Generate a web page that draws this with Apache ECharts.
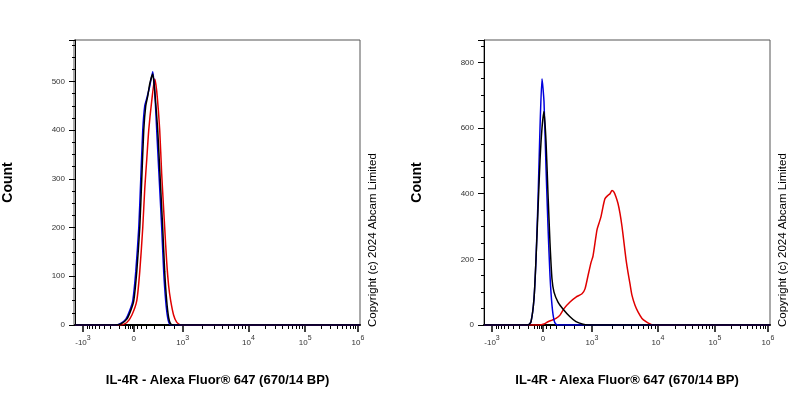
<!DOCTYPE html><html><head><meta charset="utf-8"><script src="https://cdn.jsdelivr.net/npm/echarts@6/dist/echarts.min.js"></script>
<style>body{margin:0}#c{width:800px;height:400px}</style></head><body><div id="c"></div><script>
// x values are display positions on the biexponential axis (0..286)
const tickPos = [8, 59, 108, 174, 231, 284];
const tickLabels = ['-10^3', '0', '10^3', '10^4', '10^5', '10^6'];
const L_black = [[0,0],[40,0],[46,2],[52,12],[56,30],[59,50],[62,110],[65,200],[67,300],[69,400],[71,450],[73,470],[75,495],[78,515],[80,480],[83,400],[85,320],[88,200],[90,110],[92,50],[94,15],[96,2],[100,0],[286,0]];
const L_blue = [[0,0],[40,0],[45,2],[51,12],[55,30],[58,50],[61,110],[64,200],[66,300],[68,400],[70,450],[72,465],[75,490],[78,520],[80,480],[82,400],[84,320],[87,200],[89,110],[91,50],[93,15],[95,2],[99,0],[286,0]];
const L_red = [[0,0],[46,0],[52,5],[57,20],[62,50],[65,110],[68,200],[70,280],[72,340],[74,400],[77,460],[80,505],[82,480],[85,400],[87,310],[90,200],[92,130],[94,80],[96,50],[99,20],[102,6],[106,0],[286,0]];
const R_blue = [[0,0],[44,0],[47,10],[50,80],[52,200],[54,380],[56,600],[58,750],[60,680],[62,480],[64,300],[66,150],[68,60],[70,15],[72,2],[75,0],[286,0]];
const R_black = [[0,0],[44,0],[47,10],[50,80],[52,200],[54,350],[56,500],[58,600],[60,650],[62,560],[64,400],[66,250],[68,140],[70,100],[74,70],[80,45],[86,25],[92,10],[99,2],[104,0],[286,0]];
const R_red = [[0,0],[55,0],[60,3],[64,10],[68,15],[72,20],[76,30],[80,50],[86,70],[92,85],[98,95],[101,110],[104,150],[107,190],[109,210],[111,250],[113,290],[115,310],[117,330],[119,360],[121,385],[124,395],[126,400],[128,410],[130,405],[132,390],[134,370],[136,340],[138,300],[140,250],[142,200],[144,160],[146,125],[148,90],[151,60],[154,40],[158,20],[162,10],[166,3],[169,0],[286,0]];
const leftYTicks = [0,100,200,300,400,500];
const rightYTicks = [0,200,400,600,800];

function minorTicks(){
  const v=[];
  for(let k=2;k<10;k++){v.push(108+66*Math.log10(k));v.push(174+57*Math.log10(k));v.push(231+53*Math.log10(k));}
  for(let k=2;k<10;k++){v.push(59-51*Math.log10(k)*0.97);}
  [50,53,55,57,62,66,72,80,90,100].forEach(x=>v.push(x));
  return v;
}
const lab = s => { const m=s.match(/^(-?)10\^(\d)$/); return m ? '{b|'+m[1]+'10}{s|'+m[2]+'}' : '{b|'+s+'}'; };
const grids=[{left:74,top:40,width:286,height:285},{left:484,top:40,width:286,height:285}];
const xAxes=[],yAxes=[],series=[];
[0,1].forEach(i=>{
  xAxes.push({gridIndex:i,type:'value',min:0,max:286,
    axisLine:{lineStyle:{color:'#000',width:2}},splitLine:{show:false},
    axisTick:{customValues:tickPos,length:7,lineStyle:{color:'#000',width:1.5}},
    axisLabel:{customValues:tickPos,formatter:(v)=>lab(tickLabels[tickPos.indexOf(v)]),margin:10,
      rich:{b:{fontSize:8,color:'#333',fontFamily:'Arial'},s:{fontSize:7,color:'#333',verticalAlign:'top',padding:[0,0,8,0]}}},
    name:'IL-4R - Alexa Fluor® 647 (670/14 BP)',nameLocation:'middle',nameGap:49,
    nameTextStyle:{fontWeight:'bold',fontSize:13,color:'#000',fontFamily:'Arial'}});
  xAxes.push({gridIndex:i,type:'value',min:0,max:286,position:'bottom',axisLine:{show:false},splitLine:{show:false},axisLabel:{show:false},
    axisTick:{customValues:minorTicks(),length:4,lineStyle:{color:'#000'}}});
  const mx = i===0?585:868;
  yAxes.push({gridIndex:i,type:'value',min:0,max:mx,interval:i===0?100:200,
    axisLine:{show:true,lineStyle:{color:'#000'}},splitLine:{show:false},
    axisTick:{show:true,length:6,lineStyle:{color:'#000'}},minorTick:{show:true,splitNumber:4,length:3,lineStyle:{color:'#000'}},
    axisLabel:{fontSize:8,color:'#333',fontFamily:'Arial',margin:10,showMaxLabel:false},
    name:'Count',nameLocation:'middle',nameGap:60,nameTextStyle:{fontWeight:'bold',fontSize:14,color:'#000',fontFamily:'Arial'}});
  const sets = i===0?[[L_red,'#e00000'],[L_blue,'#0000dd'],[L_black,'#000']]:[[R_red,'#e00000'],[R_blue,'#0000dd'],[R_black,'#000']];
  sets.forEach(([d,c])=>series.push({type:'line',xAxisIndex:i*2,yAxisIndex:i,data:d,showSymbol:false,smooth:0.2,lineStyle:{color:c,width:1.5},silent:true}));
});
const chart=echarts.init(document.getElementById('c'));
chart.setOption({animation:false,grid:grids,xAxis:xAxes,yAxis:yAxes,series,
  graphic:[
    {type:'rect',shape:{x:74,y:40,width:286,height:285},style:{fill:'none',stroke:'#555',lineWidth:1}},
    {type:'rect',shape:{x:484,y:40,width:286,height:285},style:{fill:'none',stroke:'#555',lineWidth:1}},
    {type:'text',x:379,y:327,rotation:Math.PI/2,style:{text:'Copyright (c) 2024 Abcam Limited',fontSize:11.5,fontFamily:'Arial',fill:'#000',align:'left',verticalAlign:'bottom'}},
    {type:'text',x:789,y:327,rotation:Math.PI/2,style:{text:'Copyright (c) 2024 Abcam Limited',fontSize:11.5,fontFamily:'Arial',fill:'#000',align:'left',verticalAlign:'bottom'}}
  ]});
</script></body></html>
